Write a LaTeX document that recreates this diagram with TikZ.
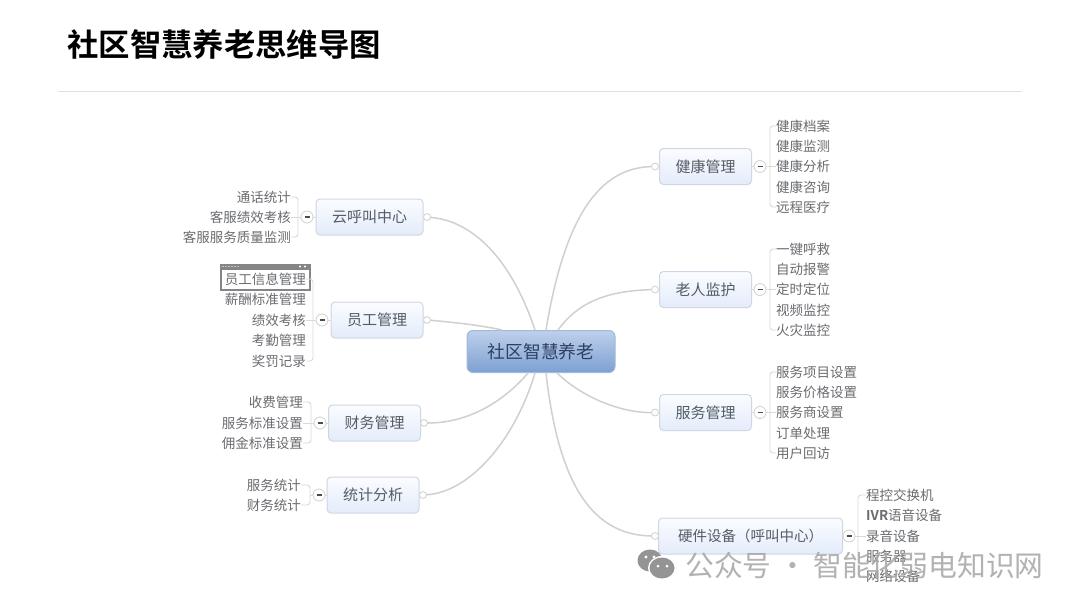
\documentclass[tikz,border=0pt]{standalone}
\usepackage{fontspec}
\setmainfont{Noto Sans CJK SC}
\newfontfamily\boldcjk{Noto Sans CJK SC Bold}
\usetikzlibrary{calc}
\definecolor{linegray}{RGB}{208,208,204}
\definecolor{twiggray}{RGB}{218,218,214}
\definecolor{txtgray}{RGB}{105,108,112}
\definecolor{topictxt}{RGB}{85,92,102}
\definecolor{roottxt}{RGB}{45,65,95}
\definecolor{boxedge}{RGB}{208,214,226}
\definecolor{boxtop}{RGB}{250,252,255}
\definecolor{boxbot}{RGB}{228,236,250}
\definecolor{rootedge}{RGB}{160,185,220}
\definecolor{roottop}{RGB}{190,208,235}
\definecolor{rootbot}{RGB}{125,160,210}
\definecolor{wmgray}{RGB}{165,165,165}
\tikzset{
  x=1pt,y=-1pt,
  topicbox/.style={draw=boxedge,line width=1pt,rounded corners=4pt,top color=boxtop,bottom color=boxbot,minimum height=36pt,inner sep=0pt,text=topictxt,font=\fontsize{15}{17}\selectfont},
  rootbox/.style={draw=rootedge,line width=1pt,rounded corners=6pt,top color=roottop,bottom color=rootbot,minimum height=42pt,minimum width=148pt,inner sep=0pt,text=roottxt,font=\fontsize{17.8}{20}\selectfont},
  leaf/.style={inner sep=0pt,text=txtgray,font=\fontsize{13.5}{15}\selectfont},
  leafl/.style={leaf,anchor=west},
  leafr/.style={leaf,anchor=east},
  branch/.style={draw=linegray,line width=1.5pt,line cap=round},
  twig/.style={draw=twiggray,line width=.9pt,rounded corners=3pt},
  port/.style={circle,draw=linegray,fill=white,line width=.8pt,minimum size=7pt,inner sep=0pt},
  fold/.style={circle,draw=linegray,fill=white,line width=.8pt,minimum size=12pt,inner sep=0pt},
}
\begin{document}
\begin{tikzpicture}
\useasboundingbox (0,0) rectangle (1080,608);
\fill[white] (0,0) rectangle (1080,608);
\node[anchor=west,inner sep=0pt,font=\fontsize{31.4}{34}\selectfont\boldcjk] (title) at (67,45) {社区智慧养老思维导图};
\coordinate (ruleL) at (58,91); \coordinate (ruleR) at (1022,91);
\draw[black!12,line width=.8pt] (ruleL) -- (ruleR);
% ports and branches first, so boxes sit over them
\node[port] (p1) at (655,166.5) {};
\node[port] (p2) at (655,289.5) {};
\node[port] (p3) at (655,412.5) {};
\node[port] (p4) at (655,536) {};
\node[port] (p5) at (427,217) {};
\node[port] (p6) at (427,320) {};
\node[port] (p7) at (424,423) {};
\node[port] (p8) at (423,495) {};
\node[rootbox] (root) at (541,351.5) {社区智慧养老};
\draw[branch] (p1) .. controls (600,168) and (565,215) .. (546,330);
\draw[branch] (p2) .. controls (610,291) and (580,300) .. (558,330);
\draw[branch] (p3) .. controls (625,413) and (585,400) .. (557,373);
\draw[branch] (p4) .. controls (590,535) and (558,480) .. (546,373);
\draw[branch] (p5) .. controls (480,222) and (515,270) .. (535,330);
\draw[branch] (p6) .. controls (450,322) and (480,325) .. (502,330);
\draw[branch] (p7) .. controls (470,423) and (505,400) .. (528,373);
\draw[branch] (p8) .. controls (470,492) and (515,440) .. (535,373);
\node[topicbox,minimum width=92pt] (t1) at (705.5,166.5) {健康管理};
\node[topicbox,minimum width=92pt] (t2) at (705.5,289.5) {老人监护};
\node[topicbox,minimum width=92pt] (t3) at (705.5,412.5) {服务管理};
\node[topicbox,minimum width=184pt,font=\fontsize{14.5}{17}\selectfont] (t4) at (750.5,536) {硬件设备（呼叫中心）};
\node[topicbox,minimum width=107pt] (t5) at (369.5,217) {云呼叫中心};
\node[topicbox,minimum width=92pt] (t6) at (377,320) {员工管理};
\node[topicbox,minimum width=92pt] (t7) at (374.5,423) {财务管理};
\node[topicbox,minimum width=92pt] (t8) at (373,495) {统计分析};
% leaves right
\foreach \n/\y/\s in {a1/126/健康档案,a2/146/健康监测,a3/166.5/健康分析,a4/187/健康咨询,a5/207/远程医疗,
  b1/249/一键呼救,b2/269/自动报警,b3/289.5/定时定位,b4/310/视频监控,b5/330/火灾监控,
  c1/372/服务项目设置,c2/392/服务价格设置,c3/412.5/服务商设置,c4/433/订单处理,c5/453/用户回访}
  \node[leafl] (\n) at (776,\y) {\s};
\foreach \n/\y/\s in {d1/495/程控交换机,d3/536/录音设备,d4/556/服务器,d5/576/网络设备}
  \node[leafl] (\n) at (866,\y) {\s};
\node[leafl] (d2) at (866,515.5) {{\boldcjk IVR}语音设备};
% leaves left
\foreach \n/\y/\s in {e1/197/通话统计,e2/217/客服绩效考核,e3/237/客服服务质量监测}
  \node[leafr] (\n) at (291,\y) {\s};
\foreach \n/\y/\s in {g2/299.5/薪酬标准管理,g3/320/绩效考核,g4/340/考勤管理,g5/361/奖罚记录}
  \node[leafr] (\n) at (306,\y) {\s};
\foreach \n/\y/\s in {h1/402/收费管理,h2/423/服务标准设置,h3/443/佣金标准设置}
  \node[leafr] (\n) at (303,\y) {\s};
\foreach \n/\y/\s in {i1/485/服务统计,i2/505/财务统计}
  \node[leafr] (\n) at (301,\y) {\s};
% selected leaf frame
\fill[black!48] (220,264) rectangle (311,270);
\foreach \dx in {223,226,229,232,235,238} \fill[white] (\dx,266.5) circle (.7);
\foreach \dx in {300,305} \fill[white] (\dx,266.5) circle (1.1);
\draw[black!48,line width=1.6pt,fill=white] (221,269) rectangle (310,290);
\node[leafr] (g1) at (306,279) {员工信息管理};
% fold markers
\foreach \n/\px/\py in {f1/760/166.5,f2/760/289.5,f3/760/412.5,f4/849/536,f5/307/217,f6/322/320,f7/320/423,f8/319/495}{
  \node[fold] (\n) at (\px,\py) {};
  \draw[black!70,line width=1.2pt] ($(\n)+(-2.5,0)$) -- ($(\n)+(2.5,0)$);
}
\begin{scope}[on top/.style={}]
\draw[twig] (t1.east) -- (f1);
\draw[twig] (t2.east) -- (f2);
\draw[twig] (t3.east) -- (f3);
\draw[twig] (t4.east) -- (f4);
\draw[twig] (t5.west) -- (f5);
\draw[twig] (t6.west) -- (f6);
\draw[twig] (t7.west) -- (f7);
\draw[twig] (t8.west) -- (f8);
\draw[twig] (f1) -- (a3.west);
\draw[twig] (f2) -- (b3.west);
\draw[twig] (f3) -- (c3.west);
\draw[twig] (f4) -- (d3.west);
\draw[twig] (f5) -- (e2.east);
\draw[twig] (f6) -- (g3.east);
\draw[twig] (f7) -- (h2.east);
\draw[twig] (f8) -- ++(-9,0);
\draw[twig] (a1.west) -- ++(-6,0) -- ($(a5.west)+(-6,0)$) -- (a5.west);
\draw[twig] (b1.west) -- ++(-6,0) -- ($(b5.west)+(-6,0)$) -- (b5.west);
\draw[twig] (c1.west) -- ++(-6,0) -- ($(c5.west)+(-6,0)$) -- (c5.west);
\draw[twig] (d1.west) -- ++(-8,0) -- ($(d5.west)+(-8,0)$) -- (d5.west);
\draw[twig] (e1.east) -- ++(7,0) -- ($(e3.east)+(7,0)$) -- (e3.east);
\draw[twig] (g1.east) -- ++(7,0) -- ($(g5.east)+(7,0)$) -- (g5.east);
\draw[twig] (h1.east) -- ++(8,0) -- ($(h3.east)+(8,0)$) -- (h3.east);
\draw[twig] (i1.east) -- ++(9,0) -- ($(i2.east)+(9,0)$) -- (i2.east);
\end{scope}
% watermark
\node[anchor=west,inner sep=0pt,text=wmgray,opacity=.85,font=\fontsize{28.8}{30}\selectfont] (wm) at (685,565) {公众号 · 智能化弱电知识网};
\fill[black!42] (650,560.5) ellipse (12.5 and 11);
\fill[white] (662,568) ellipse (14 and 12);
\fill[black!42] (662,568) ellipse (12.5 and 10.5);
\foreach \dx in {646,654} \fill[white] (\dx,557) circle (1.6);
\foreach \dx in {658,667} \fill[white] (\dx,566) circle (1.5);
\end{tikzpicture}
\end{document}
